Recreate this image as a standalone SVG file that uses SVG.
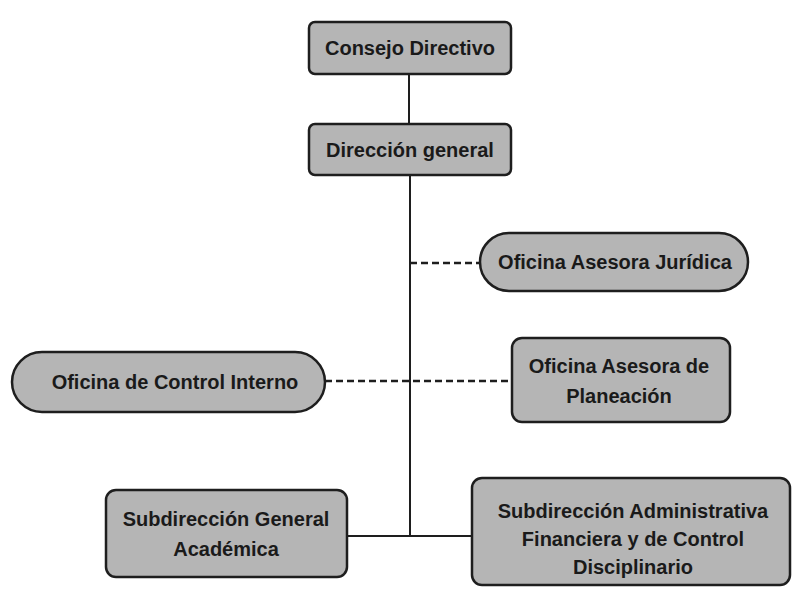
<svg xmlns="http://www.w3.org/2000/svg" width="796" height="593" viewBox="0 0 796 593">
<style>
.box{fill:#b5b5b5;stroke:#1e1e1e;stroke-width:2.5}
.t{font-family:"Liberation Sans",Arial,sans-serif;font-weight:bold;font-size:20px;fill:#1a1a1a;text-anchor:middle;dominant-baseline:central}
.solid{stroke:#1e1e1e;stroke-width:2;fill:none}
.dash{stroke:#1e1e1e;stroke-width:2.5;fill:none;stroke-dasharray:7 4}
</style>
<rect width="796" height="593" fill="#ffffff"/>
<g id="connectors">
<line class="solid" x1="409" y1="74" x2="409" y2="124"/>
<line class="solid" x1="410" y1="175" x2="410" y2="536"/>
<line class="solid" x1="346" y1="536" x2="472" y2="536"/>
<line class="dash" x1="410" y1="263" x2="480" y2="263"/>
<line class="dash" x1="325" y1="381" x2="512" y2="381"/>
</g>
<g id="consejo">
<rect class="box" x="309" y="22" width="202" height="52" rx="6"/>
<text class="t" x="410" y="48">Consejo Directivo</text>
</g>
<g id="direccion">
<rect class="box" x="309" y="124" width="202" height="51" rx="6"/>
<text class="t" x="410" y="150">Dirección general</text>
</g>
<g id="juridica">
<rect class="box" x="480" y="233" width="268" height="58" rx="29"/>
<text class="t" x="615" y="262">Oficina Asesora Jurídica</text>
</g>
<g id="control">
<rect class="box" x="12" y="352" width="313" height="60" rx="30"/>
<text class="t" x="175" y="382">Oficina de Control Interno</text>
</g>
<g id="planeacion">
<rect class="box" x="512" y="338" width="218" height="84" rx="10"/>
<text class="t" x="619" y="366">Oficina Asesora de</text>
<text class="t" x="619" y="396">Planeación</text>
</g>
<g id="academica">
<rect class="box" x="106" y="490" width="241" height="87" rx="10"/>
<text class="t" x="226" y="519">Subdirección General</text>
<text class="t" x="226" y="549">Académica</text>
</g>
<g id="administrativa">
<rect class="box" x="472" y="478" width="318" height="107" rx="10"/>
<text class="t" x="633" y="511">Subdirección Administrativa</text>
<text class="t" x="633" y="539">Financiera y de Control</text>
<text class="t" x="633" y="567">Disciplinario</text>
</g>
</svg>
